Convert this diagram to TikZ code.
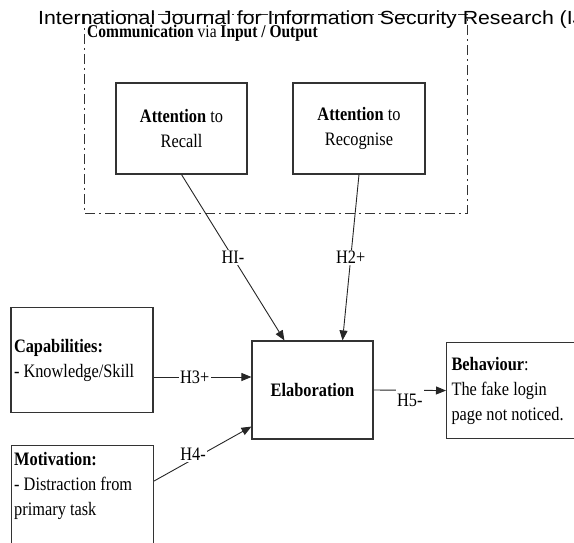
\documentclass[tikz,border=0pt]{standalone}
\usepackage{fontspec}
\setmainfont{Liberation Serif}[FakeStretch=0.86]
\newfontfamily\hdrfont{Liberation Sans}[FakeStretch=1.12]
\usetikzlibrary{arrows.meta,calc}
\begin{document}
\begin{tikzpicture}[x=1pt,y=-1pt,
  box/.style={draw=black!80, line width=1.1pt, inner sep=0pt},
  conn/.style={draw=black!85, line width=0.9pt},
  arr/.style={conn, -{Triangle[length=10pt,width=8pt]}},
  txt/.style={font=\fontsize{19}{25}\selectfont},
  lbl/.style={txt, fill=white, inner sep=1.5pt},
  ddash/.style={draw=black!80, line width=0.9pt, dash pattern=on 10pt off 4pt on 2pt off 4pt}
]
\useasboundingbox (0,0) rectangle (574,543);
\clip (0,0) rectangle (574,543);

% dash-dot group
\draw[ddash] (84,14) rectangle (467,213);

% header and group title
\node[anchor=base west, inner sep=0pt, font=\hdrfont\fontsize{19}{21}\selectfont] (hdr) at (38,25)
  {International Journal for Information Security Research (IJISR)};
\node[anchor=base west, inner sep=0pt, font=\fontsize{18}{20}\selectfont] (comm) at (87,38)
  {\textbf{Communication} via \textbf{Input / Output}};

% boxes
\node[box, txt, align=center, minimum width=131pt, minimum height=91pt] (rec) at (181.5,128.5)
  {\textbf{Attention} to\\Recall};
\node[box, txt, align=center, minimum width=132pt, minimum height=91pt] (recg) at (359,128.5)
  {\textbf{Attention} to\\Recognise};
\node[box, txt, minimum width=121pt, minimum height=98pt] (elab) at (312.5,390)
  {\textbf{Elaboration}};
\node[box, txt, align=flush left, text width=136pt, inner xsep=3pt, minimum height=105pt] (cap) at (82,360)
  {\textbf{Capabilities:}\\- Knowledge/Skill};
\node[box, anchor=north west, minimum width=142pt, minimum height=140pt] (mot) at (11,445) {};
\node[txt, anchor=north west, align=flush left, inner sep=0pt] (mottxt) at (14,452)
  {\textbf{Motivation:}\\- Distraction from\\primary task};
\node[box, txt, anchor=north west, align=flush left, text width=150pt, inner xsep=5pt, minimum height=96pt] (beh) at (446,342)
  {\textbf{Behaviour}:\\The fake login\\page not noticed.};

% connectors
\draw[arr] (rec.south) -- node[lbl] {HI-} ($(elab.north west)+(33,0)$);
\draw[arr] (recg.south) -- node[lbl] {H2+} ($(elab.north east)+(-31,0)$);
\draw[arr] ($(cap.east)+(0,17)$) -- node[lbl, pos=0.42] {H3+} ($(elab.west)+(0,-13)$);
\draw[arr] ($(mot.north east)+(0,36)$) -- node[lbl, pos=0.4, yshift=5pt] {H4-} ($(elab.south west)+(0,-13)$);
\draw[arr] (elab.east) -- node[lbl, anchor=north, inner ysep=5pt, yshift=2pt] {H5-} (beh.west);
\end{tikzpicture}
\end{document}
